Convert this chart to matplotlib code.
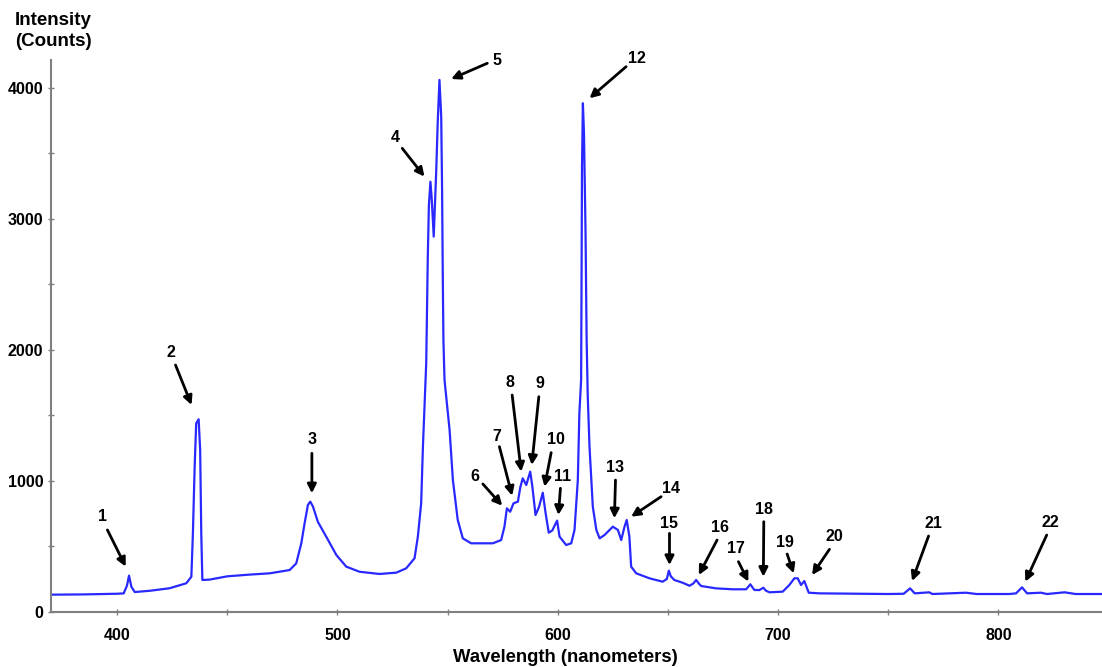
import matplotlib
matplotlib.use("Agg")
import matplotlib.pyplot as plt
from matplotlib.ticker import MultipleLocator

plt.rcParams['font.family'] = ['Liberation Sans', 'DejaVu Sans']

# spectrum: wavelength (nm), intensity (counts)
wavelength = [
    370, 385, 400, 403, 404.5, 405.4, 406.5, 408, 415, 423.8, 431.4, 433.7,
    434.4, 435.2, 435.9, 437.0, 437.7, 438.2, 438.7, 442, 450, 460, 469.3,
    478.3, 481.3, 483.6, 485.1, 486.6, 487.7, 488.9, 491.1, 494.9, 499.5,
    504.0, 510.0, 519.1, 526.7, 531.2, 535.0, 536.5, 538.0, 538.8, 540.3,
    541.0, 541.5, 542.2, 542.8, 543.7, 544.8, 545.5, 546.3, 547.1, 547.5,
    547.8, 548.1, 548.6, 550.9, 552.4, 554.6, 556.9, 560.7, 570.5, 574.3,
    575.8, 576.9, 578.4, 579.9, 581.9, 583.0, 584.1, 585.7, 587.5, 588.5,
    589.9, 591.5, 593.2, 594.5, 595.9, 597.5, 599.7, 600.8, 603.8, 606.1,
    607.6, 609.1, 609.8, 610.6, 610.8, 611.0, 611.4, 611.9, 612.6, 613.1,
    613.6, 614.4, 615.9, 617.5, 619.0, 621.2, 625.0, 627.3, 628.8, 630.3,
    631.3, 632.5, 633.3, 635.6, 641.6, 647.6, 649.5, 650.4, 651.3, 652.9,
    656.7, 659.8, 661.5, 662.8, 664.0, 665.1, 671.9, 679.4, 685.5, 687.4,
    689.2, 691.5, 693.3, 694.5, 696.1, 702.1, 705.1, 707.4, 708.9, 710.4,
    711.9, 713.9, 718.7, 730, 740, 750, 757, 759.9, 762, 768.6, 770, 785.3,
    790, 805, 808, 810.7, 813, 819.3, 822, 830, 835, 847,
]
intensity = [
    130, 132, 137, 140, 200, 275, 190, 150, 160, 179, 217, 267,
    598, 1107, 1438, 1469, 1234, 598, 242, 245, 270, 283, 293,
    318, 369, 522, 675, 815, 840, 802, 687, 573, 433,
    344, 305, 288, 298, 331, 408, 573, 827, 1260, 1900,
    2700, 3100, 3282, 3150, 2863, 3347, 3728, 4059, 3779, 3219,
    2583, 2074, 1769, 1387, 1005, 700, 560, 522, 522, 547,
    649, 789, 763, 827, 840, 950, 1018, 967, 1069, 950,
    738, 800, 908, 750, 603, 620, 695, 573, 509, 522,
    624, 1005, 1514, 1769, 2500, 3400, 3881, 3650, 2900, 2074,
    1650, 1260, 802, 624, 560, 585, 649, 624, 547, 649,
    700, 573, 344, 293, 255, 229, 250, 313, 270, 242,
    221, 198, 215, 242, 215, 196, 178, 171, 171, 209,
    166, 165, 183, 160, 148, 153, 204, 255, 255, 204,
    234, 145, 140, 138, 136, 135, 137, 178, 140, 148, 135, 145,
    135, 135, 140, 186, 140, 145, 135, 148, 135, 135,
]

# peak labels: number, label position, arrow tail, arrow head (data units)
peak_ids = [str(i) for i in range(1, 23)]
label_pos = [
    (393.6, 725), (424.3, 1982), (488.4, 1311), (526.4, 3618), (572.5, 4204),
    (562.5, 1031), (572.3, 1341), (578.5, 1748), (591.7, 1744), (599.0, 1311),
    (602.3, 1031), (635.8, 4225), (626.0, 1099), (651.4, 942), (650.7, 675),
    (673.8, 641), (680.9, 479), (693.5, 782), (702.9, 527), (725.6, 573),
    (770.5, 675), (823.4, 679),
]
arrow_tail = [
    (395.6, 624), (426.5, 1883), (488.4, 1209), (529.4, 3537), (568.0, 4186),
    (566.0, 975), (573.5, 1260), (579.3, 1654), (591.4, 1641), (597.0, 1214),
    (601.2, 942), (631.0, 4160), (626.2, 1005), (646.9, 878), (650.7, 598),
    (672.3, 547), (682.0, 382), (693.5, 687), (704.1, 440), (723.3, 476),
    (768.3, 578), (821.9, 585),
]
arrow_head = [
    (403.9, 344), (433.8, 1578), (488.4, 904), (539.5, 3321), (551.6, 4066),
    (574.8, 809), (579.3, 885), (583.4, 1069), (588.2, 1120), (594.0, 954),
    (600.3, 738), (614.4, 3919), (625.7, 713), (633.3, 725), (650.7, 356),
    (664.0, 280), (686.5, 229), (693.3, 267), (707.1, 293), (715.4, 280),
    (760.8, 234), (812.2, 229),
]

fig = plt.figure(figsize=(11.02, 6.67), dpi=100)
ax = fig.add_axes([51 / 1102, 55.3 / 667, 1051 / 1102, 551.7 / 667])

ax.plot(wavelength, intensity, color='#2828ff', lw=1.6,
        solid_joinstyle='round', solid_capstyle='round')

for n, lp, tail, head in zip(peak_ids, label_pos, arrow_tail, arrow_head):
    ax.text(lp[0], lp[1], n, ha='center', va='center', fontsize=11.5,
            fontweight='bold', clip_on=False)
    ax.annotate('', xy=head, xytext=tail, annotation_clip=False,
                arrowprops=dict(arrowstyle='-|>', color='black', lw=2,
                                mutation_scale=13, shrinkA=0, shrinkB=0))

ax.set_xlim(370, 847)
ax.set_ylim(0, 4211)
ax.xaxis.set_major_locator(MultipleLocator(100))
ax.xaxis.set_minor_locator(MultipleLocator(50))
ax.yaxis.set_major_locator(MultipleLocator(1000))
ax.yaxis.set_minor_locator(MultipleLocator(500))

for s in ['top', 'right']:
    ax.spines[s].set_visible(False)
for s in ['left', 'bottom']:
    ax.spines[s].set_color('#808080')
    ax.spines[s].set_linewidth(1.5)

ax.tick_params(which='both', direction='inout', length=5, width=1, color='#808080')
ax.tick_params(axis='y', pad=3)
ax.tick_params(axis='x', pad=9)
for lab in ax.get_xticklabels() + ax.get_yticklabels():
    lab.set_fontweight('bold')
    lab.set_fontsize(11.5)

fig.text(53 / 1102, 1 - 20.7 / 667, 'Intensity', ha='center', va='center',
         fontsize=13.5, fontweight='bold')
fig.text(53 / 1102, 1 - 41.7 / 667, '(Counts)', ha='center', va='center',
         fontsize=13.5, fontweight='bold')
fig.text(565 / 1102, 1 - 658 / 667, 'Wavelength (nanometers)', ha='center',
         va='center', fontsize=13.3, fontweight='bold')

fig.savefig('out.png', dpi=100)
